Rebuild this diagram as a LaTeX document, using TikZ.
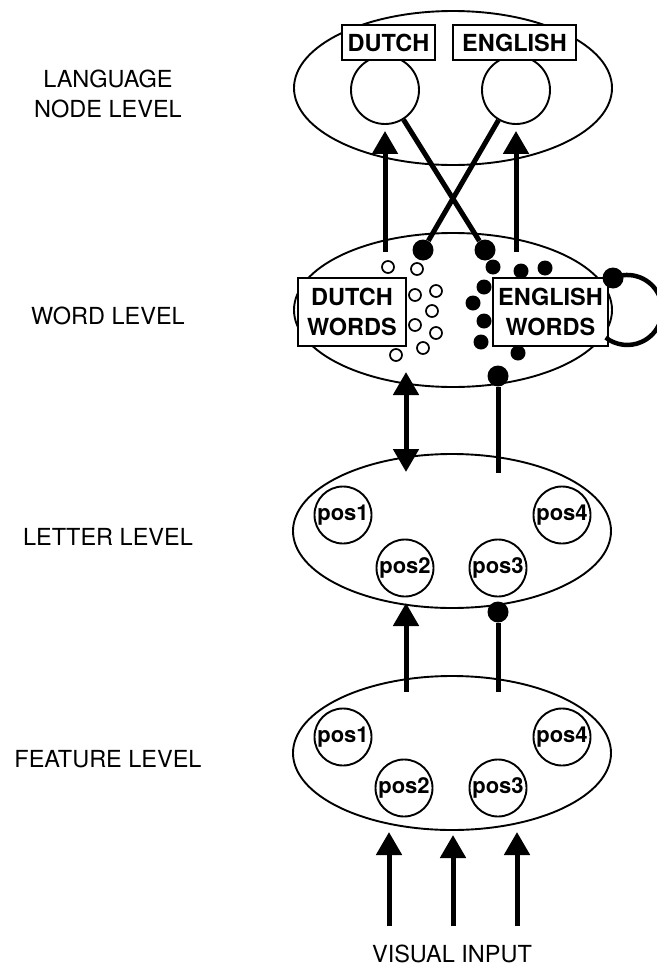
\documentclass[tikz,border=0pt]{standalone}
\usepackage{fontspec}
\setmainfont{TeX Gyre Heros}
\usetikzlibrary{arrows.meta,shapes.geometric}
\begin{document}
\begin{tikzpicture}[x=1pt,y=1pt,
  layer/.style={draw, ellipse, line width=1.9pt, minimum width=318pt, minimum height=154pt, inner sep=0pt},
  levellabel/.style={font=\fontsize{23.5}{28}\selectfont, anchor=base, inner sep=0pt},
  tag/.style={draw, fill=white, line width=2.2pt, font=\bfseries\fontsize{23.5}{30}\selectfont, inner sep=0pt, align=center},
  langunit/.style={draw, circle, line width=1.9pt, minimum size=68pt, inner sep=0pt},
  posunit/.style={draw, circle, line width=1.9pt, minimum size=57pt, inner sep=0pt, font=\bfseries\fontsize{22}{24}\selectfont},
  link/.style={line width=5pt},
  excite/.style={link, -{Triangle[width=25pt,length=23pt]}},
  twoway/.style={link, {Triangle[width=25pt,length=23pt]}-{Triangle[width=25pt,length=23pt]}},
  bigdot/.style={circle, fill, inner sep=0pt, minimum size=21pt},
  opendot/.style={circle, draw, line width=1.7pt, minimum size=12pt, inner sep=0pt},
  filldot/.style={circle, fill, inner sep=0pt, minimum size=15pt}]
\useasboundingbox (0,0) rectangle (656,-969);

% level labels
\node[levellabel] (lang1) at (108,-87) {LANGUAGE};
\node[levellabel] (lang2) at (108,-117) {NODE LEVEL};
\node[levellabel] (wordlab) at (108,-324) {WORD LEVEL};
\node[levellabel] (letterlab) at (108,-545) {LETTER LEVEL};
\node[levellabel] (featlab) at (108,-767) {FEATURE LEVEL};
\node[levellabel] (input) at (452,-962) {VISUAL INPUT};

% the four layers
\node[layer] (langlayer) at (453,-88) {};
\node[layer] (wordlayer) at (453,-310) {};
\node[layer] (letterlayer) at (452,-531) {};
\node[layer] (featlayer) at (452,-753) {};

% language nodes
\node[langunit] (ndutch) at (385,-90) {};
\node[langunit] (nenglish) at (516,-90) {};
\node[tag, minimum width=93pt, minimum height=35pt] (tagD) at (388.5,-42.5) {DUTCH};
\node[tag, minimum width=123pt, minimum height=35pt] (tagE) at (514.5,-42.5) {ENGLISH};

% word level
\node[tag, minimum width=108pt, minimum height=68pt] (tagDW) at (352,-312) {DUTCH\\WORDS};
\node[tag, minimum width=115pt, minimum height=68pt] (tagEW) at (550.5,-312) {ENGLISH\\WORDS};
\foreach \x/\y [count=\i] in {388/267, 417/269, 415/295, 436/291, 432/311, 415/325, 436/333, 396/355, 423/348}
  \node[opendot] (dw\i) at (\x,-\y) {};
\foreach \x/\y [count=\i] in {493/267, 521/271, 545/268, 484/287, 473/303, 484/321, 481/342, 518/353}
  \node[filldot] (ew\i) at (\x,-\y) {};

% letter level
\node[posunit] (l1) at (343,-515) {pos1};
\node[posunit] (l2) at (405,-568) {pos2};
\node[posunit] (l3) at (498,-568) {pos3};
\node[posunit] (l4) at (562,-515) {pos4};

% feature level
\node[posunit] (f1) at (343,-737) {pos1};
\node[posunit] (f2) at (404,-788) {pos2};
\node[posunit] (f3) at (498,-788) {pos3};
\node[posunit] (f4) at (562,-737) {pos4};

% word -> language connections
\coordinate (dUp) at (385,-252);
\coordinate (eUp) at (516,-252);
\draw[excite, shorten >=6pt] (dUp) -- (ndutch.south);
\draw[excite, shorten >=6pt] (eUp) -- (nenglish.south);
\node[bigdot] (bigD) at (423,-250) {};
\node[bigdot] (bigE) at (485,-250) {};
\draw[link] (ndutch) -- (bigE);
\draw[link] (nenglish) -- (bigD);

% lateral inhibition among English words
\node[bigdot] (loopdot) at (613,-278) {};
\draw[link, line width=4.5pt] (loopdot.center) arc[start angle=114, end angle=-128, radius=35];

% word <-> letter
\coordinate (wl1) at (406,-372);
\coordinate (wl2) at (406,-472);
\draw[twoway] (wl1) -- (wl2);
\node[bigdot] (wdot) at (498,-376) {};
\coordinate (wl3) at (498,-473);
\draw[link] (wl3) -- (wdot);

% feature -> letter
\coordinate (lf1) at (406,-692);
\coordinate (lf2) at (406,-603);
\draw[excite] (lf1) -- (lf2);
\node[bigdot] (ldot) at (498,-612) {};
\coordinate (lf3) at (498,-692);
\draw[link] (lf3) -- (ldot);

% visual input
\foreach \x/\t [count=\i] in {389/832, 453/835, 517/832} {
  \coordinate (vin\i) at (\x,-926);
  \coordinate (vout\i) at (\x,-\t);
  \draw[excite] (vin\i) -- (vout\i);
}
\end{tikzpicture}
\end{document}
